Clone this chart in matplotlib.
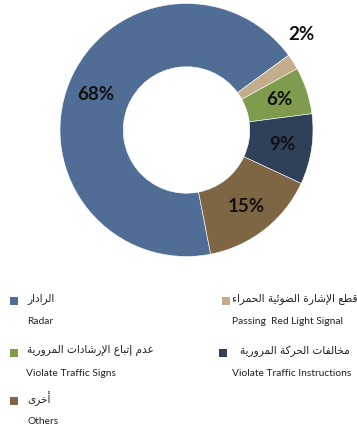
import matplotlib
matplotlib.use("Agg")
import numpy as np
import matplotlib.pyplot as plt
from matplotlib.patches import Rectangle

# violation shares, in legend order
labels_en = ["Radar", "Passing  Red Light Signal", "Violate Traffic Signs",
             "Violate Traffic Instructions", "Others"]
labels_ar = ["الرادار", "قطع الإشارة الضوئية الحمراء", "عدم إتباع الإرشادات المرورية",
             "مخالفات الحركة المرورية", "أخرى"]
values = [68, 2, 6, 9, 15]
colors = ["#506e95", "#c4ad8c", "#7e9b4e", "#2f4159", "#7e6543"]

# --- minimal Arabic shaping: presentation forms + right-to-left order ---
# type D = joins both sides, R = joins to the right only, U = no joining
JOIN = {
    "ء": (0xFE80, "U"), "أ": (0xFE83, "R"), "إ": (0xFE87, "R"), "ئ": (0xFE89, "D"),
    "ا": (0xFE8D, "R"), "ب": (0xFE8F, "D"), "ة": (0xFE93, "R"), "ت": (0xFE95, "D"),
    "ح": (0xFEA1, "D"), "خ": (0xFEA5, "D"), "د": (0xFEA9, "R"), "ر": (0xFEAD, "R"),
    "ش": (0xFEB5, "D"), "ض": (0xFEBD, "D"), "ط": (0xFEC1, "D"), "ع": (0xFEC9, "D"),
    "ف": (0xFED1, "D"), "ق": (0xFED5, "D"), "ك": (0xFED9, "D"), "ل": (0xFEDD, "D"),
    "م": (0xFEE1, "D"), "و": (0xFEED, "R"), "ى": (0xFEEF, "R"), "ي": (0xFEF1, "D"),
}
LAM_ALEF = {"آ": 0xFEF5, "أ": 0xFEF7, "إ": 0xFEF9, "ا": 0xFEFB}


def shape(text):
    out = []
    i, n = 0, len(text)
    while i < n:
        c = text[i]
        if c not in JOIN:
            out.append(c)
            i += 1
            continue
        prev = text[i - 1] if i > 0 else None
        nxt = text[i + 1] if i + 1 < n else None
        link_prev = (prev in JOIN and JOIN[prev][1] == "D" and JOIN[c][1] != "U")
        if c == "ل" and nxt in LAM_ALEF:
            out.append(chr(LAM_ALEF[nxt] + (1 if link_prev else 0)))
            i += 2
            continue
        base, kind = JOIN[c]
        link_next = kind == "D" and nxt in JOIN and JOIN[nxt][1] != "U"
        if kind == "U":
            form = 0
        elif link_prev and link_next:
            form = 3
        elif link_next:
            form = 2
        elif link_prev:
            form = 1
        else:
            form = 0
        out.append(chr(base + form))
        i += 1
    return "".join(reversed(out))


fig = plt.figure(figsize=(3.57, 4.26), dpi=100)

# donut
cx, cy, R = 186.5, 130, 126.5
ax = fig.add_axes([(cx - R) / 357, (426 - cy - R) / 426, 2 * R / 357, 2 * R / 426])
wedges, _ = ax.pie(values, colors=colors, startangle=-79, counterclock=False,
                   radius=1, wedgeprops=dict(width=0.5, edgecolor="white", linewidth=0.4))
ax.set_xlim(-1, 1)
ax.set_ylim(-1, 1)
ax.set_aspect("equal")
ax.axis("off")

for w, v in zip(wedges, values):
    mid = np.deg2rad((w.theta1 + w.theta2) / 2)
    r = 0.77
    if v < 5:
        # small slice: label sits outside the ring
        mid += np.deg2rad(7)
        r = 1.18
    ax.text(r * np.cos(mid), r * np.sin(mid), f"{v}%", ha="center", va="center",
            fontsize=13.5, fontweight="bold", family="Lato", color="#111111")

# legend block below the donut
lg = fig.add_axes([0, 0, 1, 1])
lg.set_xlim(0, 357)
lg.set_ylim(426, 0)
lg.axis("off")

# (square x, square y, arabic x, english x)
slots = [(10, 298, 27, 27), (222, 298, 232, 232), (10, 350, 27, 26),
         (219, 350, 240, 232), (10, 398, 27, 27)]
for (sx, y, ax_x, en_x), col, ar, en in zip(slots, colors, labels_ar, labels_en):
    lg.add_patch(Rectangle((sx, y - 1), 8, 8, facecolor=col, edgecolor="none"))
    lg.text(ax_x, y + 1, shape(ar), ha="left", va="center", fontsize=7.6,
            family="DejaVu Sans", color="#222222")
    lg.text(en_x, y + 23, en, ha="left", va="center",
            fontsize=7.4, family="Lato", color="#222222")

fig.savefig("out.png", dpi=100)
